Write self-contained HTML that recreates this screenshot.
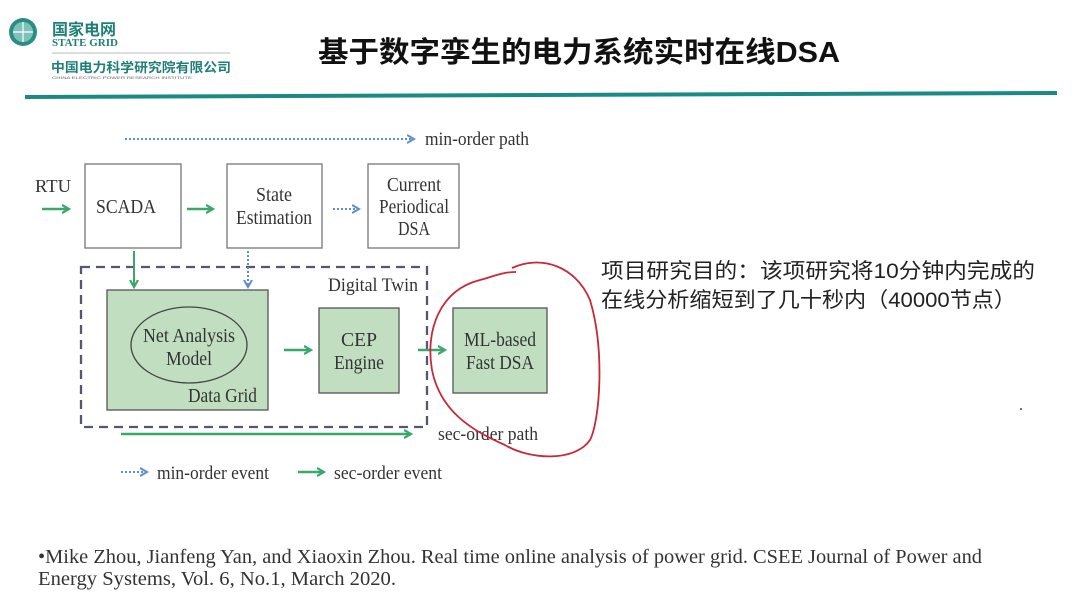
<!DOCTYPE html>
<html><head><meta charset="utf-8"><style>
body{margin:0;width:1080px;height:606px;background:#fff;overflow:hidden}
svg{display:block}
.s{font-family:"Liberation Serif",serif;fill:#333}
</style></head><body>
<svg width="1080" height="606" viewBox="0 0 1080 606">
<defs>
<marker id="gb" viewBox="0 0 10 10" markerWidth="10" markerHeight="10" refX="6" refY="5" orient="auto" markerUnits="userSpaceOnUse"><path d="M0,1 L7,5 L0,9" fill="none" stroke="#3aa86b" stroke-width="2.2"/></marker>
<marker id="b" viewBox="0 0 10 10" markerWidth="10" markerHeight="10" refX="6" refY="5" orient="auto" markerUnits="userSpaceOnUse"><path d="M0,1 L7,5 L0,9" fill="none" stroke="#5b8fd0" stroke-width="2"/></marker>
</defs>
<!-- logo -->
<circle cx="23" cy="32" r="14" fill="#2a8d85"/>
<circle cx="23" cy="32" r="10" fill="#7cc2b8"/>
<path d="M13,32 h20 M23,22 v20" stroke="#fff" stroke-width="1.2"/>
<text x="52" y="35" font-family="'Noto Sans CJK SC',sans-serif" font-weight="bold" font-size="16" fill="#1f7f78">国家电网</text>
<text x="52" y="46" font-family="'Liberation Serif',serif" font-weight="bold" font-size="11" fill="#1f7f78">STATE GRID</text>
<line x1="52" y1="53" x2="230" y2="53" stroke="#bbb" stroke-width="1"/>
<text x="51" y="72" font-family="'Noto Sans CJK SC',sans-serif" font-weight="bold" font-size="13" fill="#1f7f78" textLength="180" lengthAdjust="spacingAndGlyphs">中国电力科学研究院有限公司</text>
<text x="52" y="79" font-family="'Liberation Sans',sans-serif" font-size="4" fill="#666" textLength="140" lengthAdjust="spacingAndGlyphs">CHINA ELECTRIC POWER RESEARCH INSTITUTE</text>
<text x="318" y="62" font-family="'Liberation Sans','Noto Sans CJK SC',sans-serif" font-weight="bold" font-size="29" fill="#111" textLength="522" lengthAdjust="spacingAndGlyphs">基于数字孪生的电力系统实时在线DSA</text>
<line x1="25" y1="97" x2="1057" y2="93" stroke="#1a8a86" stroke-width="4"/>

<line x1="125" y1="139" x2="413" y2="139" stroke="#5b8fd0" stroke-width="2" stroke-dasharray="2,2" marker-end="url(#b)"/>
<text class="s" x="425" y="145" font-size="19" textLength="104" lengthAdjust="spacingAndGlyphs">min-order path</text>

<text class="s" x="35" y="192" font-size="18" textLength="36" lengthAdjust="spacingAndGlyphs">RTU</text>
<line x1="42" y1="209" x2="68" y2="209" stroke="#3aa86b" stroke-width="2.5" marker-end="url(#gb)"/>
<rect x="85" y="164" width="96" height="84" fill="#fff" stroke="#777" stroke-width="1.3"/>
<text class="s" x="126" y="213" font-size="20" text-anchor="middle" textLength="60" lengthAdjust="spacingAndGlyphs">SCADA</text>
<line x1="187" y1="209" x2="212" y2="209" stroke="#3aa86b" stroke-width="2.5" marker-end="url(#gb)"/>
<rect x="227" y="164" width="95" height="84" fill="#fff" stroke="#777" stroke-width="1.3"/>
<text class="s" x="274" y="201" font-size="20" text-anchor="middle" textLength="36" lengthAdjust="spacingAndGlyphs">State</text>
<text class="s" x="274" y="224" font-size="20" text-anchor="middle" textLength="76" lengthAdjust="spacingAndGlyphs">Estimation</text>
<line x1="333" y1="209" x2="358" y2="209" stroke="#5b8fd0" stroke-width="2" stroke-dasharray="2,2" marker-end="url(#b)"/>
<rect x="368" y="164" width="91" height="84" fill="#fff" stroke="#777" stroke-width="1.3"/>
<text class="s" x="414" y="191" font-size="20" text-anchor="middle" textLength="54" lengthAdjust="spacingAndGlyphs">Current</text>
<text class="s" x="414" y="213" font-size="20" text-anchor="middle" textLength="70" lengthAdjust="spacingAndGlyphs">Periodical</text>
<text class="s" x="414" y="235" font-size="20" text-anchor="middle" textLength="32" lengthAdjust="spacingAndGlyphs">DSA</text>

<rect x="81" y="267" width="346" height="160" fill="none" stroke="#55557a" stroke-width="2.3" stroke-dasharray="9,6"/>
<line x1="134" y1="251" x2="134" y2="286" stroke="#3aa86b" stroke-width="2" marker-end="url(#gb)"/>
<line x1="248" y1="251" x2="248" y2="286" stroke="#5b8fd0" stroke-width="2" stroke-dasharray="2,2" marker-end="url(#b)"/>
<text class="s" x="418" y="291" font-size="19" text-anchor="end" textLength="90" lengthAdjust="spacingAndGlyphs">Digital Twin</text>
<rect x="107" y="290" width="161" height="120" fill="#c1dfc0" stroke="#555" stroke-width="1.3"/>
<ellipse cx="189" cy="345" rx="58" ry="38" fill="none" stroke="#444" stroke-width="1.3"/>
<text class="s" x="189" y="342" font-size="20" text-anchor="middle" textLength="92" lengthAdjust="spacingAndGlyphs">Net Analysis</text>
<text class="s" x="189" y="365" font-size="20" text-anchor="middle" textLength="46" lengthAdjust="spacingAndGlyphs">Model</text>
<text class="s" x="257" y="402" font-size="20" text-anchor="end" textLength="69" lengthAdjust="spacingAndGlyphs">Data Grid</text>
<line x1="284" y1="350" x2="310" y2="350" stroke="#3aa86b" stroke-width="2.5" marker-end="url(#gb)"/>
<rect x="319" y="308" width="80" height="85" fill="#c1dfc0" stroke="#555" stroke-width="1.3"/>
<text class="s" x="359" y="346" font-size="20" text-anchor="middle" textLength="36" lengthAdjust="spacingAndGlyphs">CEP</text>
<text class="s" x="359" y="369" font-size="20" text-anchor="middle" textLength="50" lengthAdjust="spacingAndGlyphs">Engine</text>
<line x1="418" y1="350" x2="444" y2="350" stroke="#3aa86b" stroke-width="2.5" marker-end="url(#gb)"/>
<rect x="453" y="308" width="94" height="85" fill="#c1dfc0" stroke="#555" stroke-width="1.3"/>
<text class="s" x="500" y="346" font-size="20" text-anchor="middle" textLength="72" lengthAdjust="spacingAndGlyphs">ML-based</text>
<text class="s" x="500" y="369" font-size="20" text-anchor="middle" textLength="68" lengthAdjust="spacingAndGlyphs">Fast DSA</text>

<line x1="121" y1="434" x2="410" y2="434" stroke="#3aa86b" stroke-width="2.5" marker-end="url(#gb)"/>
<text class="s" x="438" y="440" font-size="19" textLength="100" lengthAdjust="spacingAndGlyphs">sec-order path</text>

<line x1="121" y1="472" x2="146" y2="472" stroke="#5b8fd0" stroke-width="2" stroke-dasharray="2,2" marker-end="url(#b)"/>
<text class="s" x="157" y="479" font-size="19" textLength="112" lengthAdjust="spacingAndGlyphs">min-order event</text>
<line x1="298" y1="472" x2="323" y2="472" stroke="#3aa86b" stroke-width="2.5" marker-end="url(#gb)"/>
<text class="s" x="334" y="479" font-size="19" textLength="108" lengthAdjust="spacingAndGlyphs">sec-order event</text>

<path d="M512,268 C540,255 575,265 590,300 C605,350 600,420 590,440 C575,462 530,460 505,445 C470,430 440,410 432,370 C425,330 440,290 480,280 C495,276 502,272 516,272" fill="none" stroke="#c8283a" stroke-width="1.8"/>

<text x="601" y="278" font-family="'Liberation Sans','Noto Sans CJK SC',sans-serif" font-size="21" fill="#222" textLength="434" lengthAdjust="spacingAndGlyphs">项目研究目的：该项研究将10分钟内完成的</text>
<text x="601" y="307" font-family="'Liberation Sans','Noto Sans CJK SC',sans-serif" font-size="21" fill="#222" textLength="415" lengthAdjust="spacingAndGlyphs">在线分析缩短到了几十秒内（40000节点）</text>
<circle cx="1021" cy="409" r="1" fill="#444"/>

<text class="s" x="38" y="563" font-size="20" fill="#222" textLength="944" lengthAdjust="spacingAndGlyphs">•Mike Zhou, Jianfeng Yan, and Xiaoxin Zhou. Real time online analysis of power grid. CSEE Journal of Power and</text>
<text class="s" x="38" y="585" font-size="20" fill="#222" textLength="358" lengthAdjust="spacingAndGlyphs">Energy Systems, Vol. 6, No.1, March 2020.</text>
</svg>
</body></html>
